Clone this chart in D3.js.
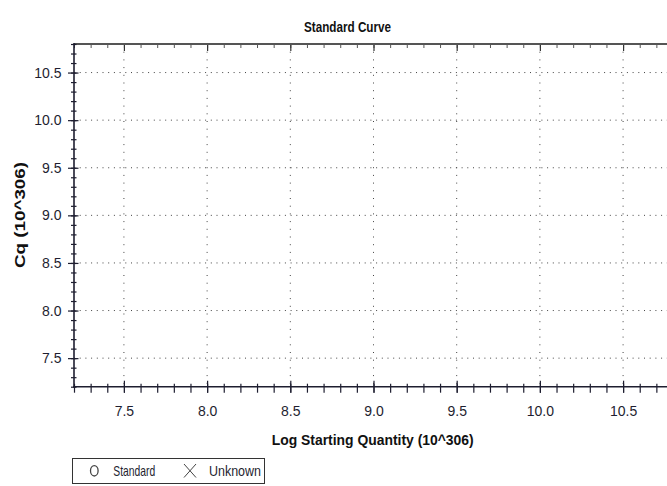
<!DOCTYPE html>
<html>
<head>
<meta charset="utf-8">
<script src="https://cdn.jsdelivr.net/npm/d3@7"></script>
<style>
  body { margin: 0; background: #fff; }
  text { font-family: "Liberation Sans", Arial, sans-serif; }
</style>
</head>
<body>
<svg id="chart" width="667" height="486"></svg>
<script>
// axis ranges and ticks
var xDomain = [7.2, 10.8];
var yDomain = [7.2, 10.8];
var xMajor = [7.5, 8.0, 8.5, 9.0, 9.5, 10.0, 10.5];
var yMajor = [7.5, 8.0, 8.5, 9.0, 9.5, 10.0, 10.5];
var minorTicks = d3.range(72, 109).map(function(v) { return v / 10; });

// no wells plotted in the reference
var standardPoints = [];
var unknownPoints = [];
var legendItems = ["Standard", "Unknown"];
var legendWidths = [42, 52];

var svg = d3.select("#chart");
var pLeft = 74, pTop = 44, pBottom = 386.7, pRight = 673;

var x = d3.scaleLinear().domain(xDomain).range([pLeft, pRight]);
var y = d3.scaleLinear().domain(yDomain).range([pBottom, pTop]);

var ink = "#1e1e30";

// dotted grid
svg.append("g").selectAll("line").data(yMajor).enter().append("line")
  .attr("x1", pLeft).attr("x2", 667)
  .attr("y1", function(d) { return y(d); }).attr("y2", function(d) { return y(d); })
  .attr("stroke", "#444").attr("stroke-width", 1).attr("stroke-dasharray", "1,4.7");
svg.append("g").selectAll("line").data(xMajor).enter().append("line")
  .attr("y1", pTop).attr("y2", pBottom)
  .attr("x1", function(d) { return x(d); }).attr("x2", function(d) { return x(d); })
  .attr("stroke", "#444").attr("stroke-width", 1).attr("stroke-dasharray", "1,6.7");

// top axis (no labels)
svg.append("g").attr("transform", "translate(0," + pTop + ")")
  .call(d3.axisBottom(x).tickValues(minorTicks).tickFormat("").tickSize(4))
  .call(function(g) { g.select(".domain").remove(); })
  .selectAll("line").attr("stroke", "#555");
svg.append("g").attr("transform", "translate(0," + pTop + ")")
  .call(d3.axisBottom(x).tickValues(xMajor).tickFormat("").tickSize(7))
  .call(function(g) { g.select(".domain").remove(); })
  .selectAll("line").attr("stroke", "#333").attr("stroke-width", 1.2);
svg.append("line").attr("x1", pLeft).attr("x2", 667).attr("y1", pTop).attr("y2", pTop)
  .attr("stroke", "#555").attr("stroke-width", 2);

// bottom axis
var bMinor = svg.append("g").attr("transform", "translate(0," + pBottom + ")")
  .call(d3.axisBottom(x).tickValues(minorTicks).tickFormat("").tickSize(6));
bMinor.select(".domain").remove();
bMinor.selectAll("line").attr("y1", -3).attr("stroke", ink).attr("stroke-width", 1.2);

var bMajor = svg.append("g").attr("transform", "translate(0," + pBottom + ")")
  .call(d3.axisBottom(x).tickValues(xMajor).tickFormat(d3.format(".1f")).tickSize(6).tickPadding(13.5));
bMajor.select(".domain").remove();
bMajor.selectAll("line").attr("y1", -6).attr("stroke", ink).attr("stroke-width", 1.2);
bMajor.selectAll("text").attr("font-size", 14).attr("fill", ink)
  .attr("font-family", "Liberation Sans, Arial, sans-serif");

svg.append("line").attr("x1", pLeft - 1).attr("x2", 667).attr("y1", pBottom).attr("y2", pBottom)
  .attr("stroke", ink).attr("stroke-width", 1.6);

// left axis
var lMinor = svg.append("g").attr("transform", "translate(" + pLeft + ",0)")
  .call(d3.axisLeft(y).tickValues(minorTicks).tickFormat("").tickSize(3));
lMinor.select(".domain").remove();
lMinor.selectAll("line").attr("x1", 2.5).attr("stroke", ink).attr("stroke-width", 1.2);

var lMajor = svg.append("g").attr("transform", "translate(" + pLeft + ",0)")
  .call(d3.axisLeft(y).tickValues(yMajor).tickFormat(d3.format(".1f")).tickSize(6).tickPadding(6.5));
lMajor.select(".domain").remove();
lMajor.selectAll("line").attr("x1", 4.5).attr("stroke", ink).attr("stroke-width", 1.2);
lMajor.selectAll("text").attr("font-size", 14).attr("fill", ink)
  .attr("font-family", "Liberation Sans, Arial, sans-serif");

svg.append("line").attr("x1", pLeft).attr("x2", pLeft).attr("y1", pTop - 1).attr("y2", pBottom + 1)
  .attr("stroke", ink).attr("stroke-width", 1.6);

// marks (none in this run)
svg.append("g").selectAll("circle").data(standardPoints).enter().append("circle")
  .attr("cx", function(d) { return x(d[0]); }).attr("cy", function(d) { return y(d[1]); })
  .attr("r", 4).attr("fill", "none").attr("stroke", "#333");
svg.append("g").selectAll("path").data(unknownPoints).enter().append("path")
  .attr("d", function(d) {
    var cx = x(d[0]), cy = y(d[1]);
    return "M" + (cx - 4) + "," + (cy - 4) + "L" + (cx + 4) + "," + (cy + 4) +
      "M" + (cx - 4) + "," + (cy + 4) + "L" + (cx + 4) + "," + (cy - 4);
  })
  .attr("stroke", "#333");

// titles
svg.append("text")
  .attr("x", 304).attr("y", 31.7)
  .attr("font-size", 14).attr("font-weight", "bold").attr("fill", "#111")
  .attr("textLength", 87).attr("lengthAdjust", "spacingAndGlyphs")
  .text("Standard Curve");

svg.append("text")
  .attr("x", 271.7).attr("y", 445)
  .attr("font-size", 14).attr("font-weight", "bold").attr("fill", "#111")
  .attr("textLength", 202).attr("lengthAdjust", "spacingAndGlyphs")
  .text("Log Starting Quantity (10^306)");

svg.append("text")
  .attr("transform", "translate(24.5,268) rotate(-90)")
  .attr("font-size", 14).attr("font-weight", "bold").attr("fill", "#111")
  .attr("textLength", 106).attr("lengthAdjust", "spacingAndGlyphs")
  .text("Cq (10^306)");

// legend
var lg = svg.append("g");
lg.append("rect").attr("x", 72.5).attr("y", 458.5).attr("width", 192).attr("height", 25)
  .attr("fill", "#fff").attr("stroke", "#333").attr("stroke-width", 1);
lg.append("ellipse").attr("cx", 94.3).attr("cy", 470.8).attr("rx", 3.8).attr("ry", 5.2)
  .attr("fill", "none").attr("stroke", "#444").attr("stroke-width", 1.3);
lg.append("path").attr("d", "M184,464L196,477.5M184,477.5L196,464")
  .attr("stroke", "#444").attr("stroke-width", 1);
lg.selectAll("text").data(legendItems).enter().append("text")
  .attr("x", function(d, i) { return i === 0 ? 113.3 : 209; })
  .attr("y", 476).attr("font-size", 15).attr("fill", ink)
  .attr("textLength", function(d, i) { return legendWidths[i]; })
  .attr("lengthAdjust", "spacingAndGlyphs")
  .text(function(d) { return d; });
</script>
</body>
</html>
